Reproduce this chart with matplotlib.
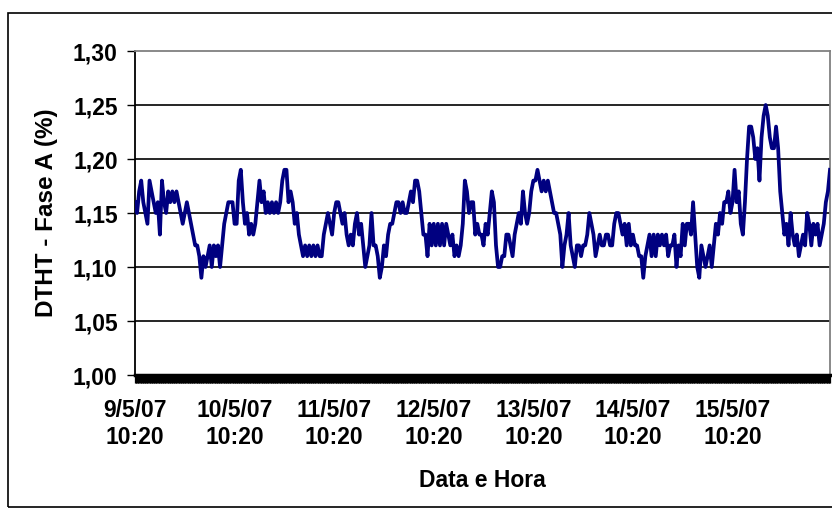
import numpy as np
import matplotlib
matplotlib.use("Agg")
import matplotlib.pyplot as plt
from matplotlib.patches import Rectangle

# Harmonic distortion (DTHT, phase A) sampled every 30 minutes, 9/5/07 10:20 onward
dtht_day1 = [1.16, 1.15, 1.17, 1.18, 1.16, 1.15, 1.14, 1.18, 1.17, 1.16, 1.15, 1.16, 1.13, 1.18,
             1.16, 1.15, 1.17, 1.16, 1.17, 1.16, 1.17, 1.16, 1.15, 1.14, 1.15, 1.16, 1.15, 1.14,
             1.13, 1.12, 1.12, 1.11, 1.09, 1.11, 1.10, 1.11, 1.12, 1.10, 1.12, 1.11, 1.12, 1.10,
             1.12, 1.14, 1.15, 1.16, 1.16, 1.16, 1.14, 1.14, 1.18, 1.19, 1.16, 1.14, 1.15, 1.13]
dtht_day2 = [1.14, 1.13, 1.14, 1.16, 1.18, 1.16, 1.17, 1.15, 1.16, 1.15, 1.16, 1.15, 1.16, 1.15,
             1.16, 1.18, 1.19, 1.19, 1.16, 1.17, 1.16, 1.14, 1.15, 1.13, 1.12, 1.11, 1.12, 1.11,
             1.12, 1.11, 1.12, 1.11, 1.12, 1.11, 1.11, 1.13, 1.14, 1.15, 1.14, 1.13, 1.15, 1.16,
             1.16, 1.15, 1.14, 1.15, 1.13, 1.12, 1.13, 1.12, 1.14, 1.15, 1.13, 1.14, 1.12, 1.10]
dtht_day3 = [1.11, 1.12, 1.15, 1.12, 1.12, 1.11, 1.09, 1.10, 1.12, 1.11, 1.13, 1.14, 1.14, 1.15,
             1.16, 1.16, 1.15, 1.16, 1.15, 1.15, 1.16, 1.17, 1.16, 1.18, 1.18, 1.17, 1.15, 1.13,
             1.13, 1.11, 1.14, 1.12, 1.14, 1.12, 1.14, 1.12, 1.14, 1.12, 1.14, 1.13, 1.12, 1.13,
             1.11, 1.12, 1.11, 1.12, 1.14, 1.18, 1.17, 1.15, 1.16, 1.16, 1.13, 1.14, 1.13, 1.13]
dtht_day4 = [1.12, 1.14, 1.13, 1.15, 1.17, 1.16, 1.12, 1.10, 1.10, 1.11, 1.11, 1.13, 1.13, 1.12,
             1.11, 1.13, 1.14, 1.15, 1.14, 1.17, 1.15, 1.14, 1.15, 1.17, 1.18, 1.18, 1.19, 1.18,
             1.17, 1.18, 1.17, 1.18, 1.17, 1.16, 1.15, 1.15, 1.14, 1.13, 1.10, 1.12, 1.13, 1.15,
             1.12, 1.11, 1.10, 1.12, 1.12, 1.11, 1.12, 1.12, 1.13, 1.15, 1.14, 1.13, 1.11, 1.12]
dtht_day5 = [1.13, 1.12, 1.12, 1.13, 1.13, 1.12, 1.12, 1.14, 1.15, 1.15, 1.14, 1.13, 1.14, 1.12,
             1.14, 1.12, 1.13, 1.12, 1.12, 1.11, 1.11, 1.09, 1.11, 1.12, 1.13, 1.11, 1.13, 1.11,
             1.13, 1.12, 1.13, 1.12, 1.13, 1.11, 1.12, 1.12, 1.13, 1.10, 1.12, 1.11, 1.14, 1.12,
             1.14, 1.14, 1.13, 1.16, 1.13, 1.10, 1.09, 1.12, 1.11, 1.10, 1.11, 1.12, 1.10, 1.12]
dtht_day6 = [1.14, 1.13, 1.15, 1.14, 1.16, 1.16, 1.17, 1.15, 1.16, 1.19, 1.16, 1.17, 1.14, 1.13,
             1.16, 1.20, 1.23, 1.23, 1.22, 1.20, 1.21, 1.18, 1.22, 1.24, 1.25, 1.24, 1.22, 1.21,
             1.21, 1.23, 1.21, 1.17, 1.15, 1.13, 1.14, 1.12, 1.15, 1.13, 1.12, 1.13, 1.11, 1.12,
             1.13, 1.12, 1.15, 1.14, 1.12, 1.14, 1.13, 1.14, 1.12, 1.13, 1.14, 1.16, 1.17, 1.19]

dtht = dtht_day1 + dtht_day2 + dtht_day3 + dtht_day4 + dtht_day5 + dtht_day6
sample_minutes = 30

date_labels = ["9/5/07\n10:20", "10/5/07\n10:20", "11/5/07\n10:20", "12/5/07\n10:20",
               "13/5/07\n10:20", "14/5/07\n10:20", "15/5/07\n10:20"]
y_ticks = [1.00, 1.05, 1.10, 1.15, 1.20, 1.25, 1.30]
y_tick_labels = ["1,00", "1,05", "1,10", "1,15", "1,20", "1,25", "1,30"]

plt.rcParams['font.family'] = ['Liberation Sans', 'DejaVu Sans']
plt.rcParams['font.weight'] = 'bold'
FS = 16.5

W, H = 832, 511
fig = plt.figure(figsize=(W / 100, H / 100), dpi=100)
fig.patch.set_facecolor('white')

# outer chart frame
fig.add_artist(Rectangle((8 / W, 1 - 507 / H), 900 / W, 494 / H,
                         transform=fig.transFigure, fill=False,
                         edgecolor='black', linewidth=1.2))

left, right, top, bottom = 135, 830, 51, 375
ax = fig.add_axes([left / W, 1 - bottom / H, (right - left) / W, (bottom - top) / H])

days = np.arange(len(dtht)) * sample_minutes / (24 * 60)
ax.plot(days, dtht, color='#000080', linewidth=2.7, solid_joinstyle='round', zorder=3)

ax.set_xlim(0, days[-1])
ax.set_ylim(1.00, 1.30)

# horizontal gridlines
for yv in y_ticks[1:-1]:
    ax.axhline(yv, color='black', linewidth=1.2, zorder=1)

ax.set_yticks(y_ticks)
ax.set_yticklabels(y_tick_labels, fontsize=FS, fontweight='bold')
ax.tick_params(axis='y', direction='out', length=5.5, width=1.0, pad=7, colors='black')

ax.set_xticks(np.arange(len(date_labels)))
ax.set_xticklabels(date_labels, fontsize=FS, fontweight='bold', linespacing=1.25)
# one tick per 10-minute category along the time axis
ax.set_xticks(np.arange(0, days[-1] * 144 + 1) / 144, minor=True)
ax.tick_params(axis='x', which='both', direction='out', length=6, width=0.9,
               pad=11, colors='black')

ax.spines['left'].set_color('black')
ax.spines['left'].set_linewidth(1.3)
ax.spines['bottom'].set_color('black')
ax.spines['bottom'].set_linewidth(2.5)
ax.spines['top'].set_color('#808080')
ax.spines['top'].set_linewidth(1.3)
ax.spines['right'].set_color('#808080')
ax.spines['right'].set_linewidth(1.3)

ax.set_ylabel("DTHT - Fase A (%)", fontsize=17.5, fontweight='bold', va='center')
ax.yaxis.set_label_coords((47 - left) / (right - left), 0.5)
ax.set_xlabel("Data e Hora", fontsize=FS, fontweight='bold', va='center')
ax.xaxis.set_label_coords(0.5, (bottom - 480) / (bottom - top))

fig.savefig("out.png", dpi=100, facecolor='white')
